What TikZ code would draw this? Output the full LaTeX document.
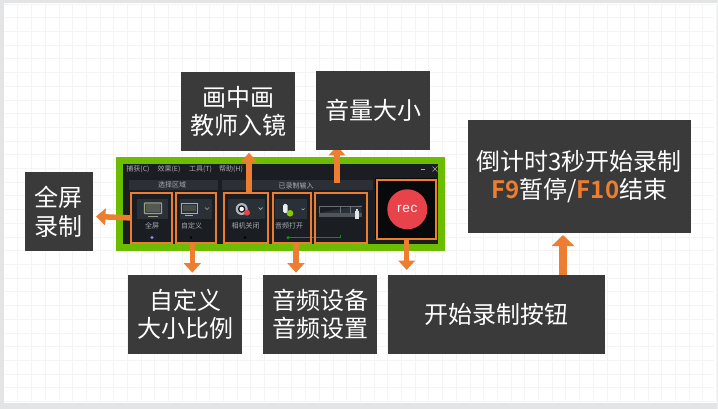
\documentclass[tikz,border=0pt]{standalone}
\usepackage{fontspec}
\setmainfont{Noto Sans CJK SC}
\newfontfamily\cjkbold{Noto Sans CJK SC Bold}
\setsansfont{Liberation Sans}
\usetikzlibrary{arrows.meta,calc}
\definecolor{boxdark}{HTML}{3A3A3A}
\definecolor{accent}{HTML}{ED7D31}
\definecolor{framegreen}{HTML}{6CBD00}
\definecolor{windark}{HTML}{1A1E23}
\definecolor{panel}{HTML}{2B3037}
\definecolor{tile}{HTML}{2A3037}
\definecolor{wintext}{HTML}{A8ACB0}
\definecolor{iconc}{HTML}{9DA287}
\definecolor{recred}{HTML}{E8434A}
\definecolor{gridc}{HTML}{F4F4F4}
\definecolor{edgec}{HTML}{E3E4E5}
\tikzset{
  x=1pt,y=-1pt,
  label box/.style={fill=boxdark,text=white,align=center,inner sep=0pt,font=\fontsize{24}{28.5}\selectfont,anchor=north west},
  callout/.style={draw=accent,line width=1.9pt,inner sep=0pt,anchor=north west},
  pointer/.style={draw=accent,line width=5.5pt,-{Triangle[length=9.5pt,width=16.5pt]}},
  big pointer/.style={draw=accent,line width=8pt,-{Triangle[length=11pt,width=22pt]}},
  menu text/.style={text=wintext,font=\fontsize{7}{8}\selectfont,inner sep=0pt},
  tile label/.style={text=wintext,font=\fontsize{7}{8}\selectfont,inner sep=0pt},
}
\newcommand{\lbox}[6]{\node[label box,minimum width=#4pt,minimum height=#5pt] (#1) at (#2,#3) {#6};}
\newcommand{\hot}[1]{{\color{accent}\cjkbold #1}}
\begin{document}
\begin{tikzpicture}
\useasboundingbox (0,0) rectangle (718,409);
\fill[white] (0,0) rectangle (718,409);
\foreach \i in {1,...,52} \draw[gridc,line width=.6pt] ({4+13.7*\i},4) -- ({4+13.7*\i},402);
\foreach \i in {0,...,29} \draw[gridc,line width=.6pt] (4,{4+13.7*\i}) -- (714,{4+13.7*\i});
\fill[edgec] (0,0) rectangle (718,3.5);
\fill[edgec] (0,0) rectangle (3.5,409);
\fill[edgec] (0,403) rectangle (718,409);
\fill[edgec!60] (717,0) rectangle (718,409);
% window
\node[fill=framegreen,minimum width=329pt,minimum height=93.5pt,inner sep=0pt,anchor=north west] (frame) at (116,157) {};
\node[fill=windark,minimum width=315pt,minimum height=80pt,inner sep=0pt,anchor=north west] (win) at (123,163.5) {};
\foreach \t/\x in {捕获(C)/138,效果(E)/169,工具(T)/200.5,帮助(H)/231}
  \node[menu text] at (\x,169) {\t};
\draw[wintext,line width=.7pt] (420.5,169) -- (425,169);
\draw[wintext,line width=.7pt] (432.5,166.5) -- (437.5,171.5) (432.5,171.5) -- (437.5,166.5);
\fill[panel] (129,180) rectangle (218,190);
\fill[panel] (222,180) rectangle (373,190);
\node[tile label] at (172,184.5) {选择区域};
\node[tile label] at (296,186) {已录制输入};
% tiles
\fill[tile] (136.7,199) rectangle (168,218.5);
\draw[iconc,line width=1.1pt,rounded corners=.5pt] (144.5,203) rectangle (161.5,213.5);
\fill[iconc!45!windark] (146,204.5) rectangle (160,212);
\draw[iconc,line width=1pt] (148,216) -- (158,216);
\node[tile label] at (152,225.5) {全屏};
\fill[blue!45!white] (152,237.5) circle (1.7pt);
\fill[tile] (180,199) rectangle (210.5,218.5);
\draw[wintext,line width=1pt] (181.2,203.2) rectangle (197.2,213);
\fill[iconc!35!windark] (183,205) rectangle (195.5,211.2);
\draw[wintext,line width=1pt] (185,215.5) -- (193,215.5);
\fill[panel] (201,199) rectangle (212,218.5);
\draw[wintext,line width=.7pt] (205,207.5) -- (207,209.5) -- (209,207.5);
\node[tile label] at (191.7,225.5) {自定义};
\fill[tile] (228,199) rectangle (265,218.5);
\fill[wintext!90!white] (241.7,209) circle (6pt);
\fill[windark] (241.7,209) circle (3.8pt);
\fill[white] (241.7,209) circle (2.2pt);
\fill[recred] (247,212.7) circle (3pt);
\draw[wintext,line width=.7pt] (258.7,207.5) -- (260.7,209.5) -- (262.7,207.5);
\node[tile label] at (245.7,225.5) {相机关闭};
\fill[tile] (275,199) rectangle (307,218.5);
\fill[white!85!gray,rounded corners=1.5pt] (283,204) rectangle (287.5,213);
\fill[framegreen!80!yellow] (290,213.3) circle (3.3pt);
\draw[wintext,line width=.7pt] (301.5,208.5) -- (303,210) -- (304.5,208.5);
\node[tile label] at (289,225.5) {音频打开};
% meter
\fill[tile] (319,213) -- (361.7,205) -- (361.7,213) -- cycle;
\draw[tile!50!wintext,line width=.5pt] (319,206.7) -- (361.7,206.7) (319,206) -- (319,212.7) (340,206) -- (340,212.7) (350,206) -- (350,212.7);
\fill[tile!70!wintext] (319,213) rectangle (361.7,217);
\fill[white!80!gray] (354.7,211) rectangle (358.7,218.5);
\fill[white!80!gray] (355.7,209) rectangle (357.7,211);
\draw[green!60!black,line width=.7pt] (288,237.7) -- (340,237.7) -- (340,234.5);
\fill[green!60!black] (288,237.7) circle (1.7pt);
\fill[black] (191,237.5) circle (1.3pt) (245,237.5) circle (1.3pt);
\fill[black!70!windark] (375,178) rectangle (436,238.5);
\node[circle,fill=recred,minimum size=40pt,inner sep=0pt,text=white,font=\sffamily\fontsize{13.5}{15}\selectfont] (recbtn) at (407.3,209.3) {r\kern.7pt e\kern.7pt c};
% callouts
\node[callout,minimum width=41pt,minimum height=50.5pt] (cfull) at (130.3,191.7) {};
\node[callout,minimum width=40pt,minimum height=50.5pt] (ccustom) at (175,191.7) {};
\node[callout,minimum width=44pt,minimum height=50.5pt] (ccam) at (223.2,191.7) {};
\node[callout,minimum width=38.5pt,minimum height=50.5pt] (caudio) at (271.7,191.7) {};
\node[callout,minimum width=52.5pt,minimum height=50.5pt] (cvol) at (313.7,191.7) {};
\node[callout,minimum width=59pt,minimum height=58.5pt] (crec) at (375.8,179.2) {};
% connector that runs under its label box
\coordinate (a3tail) at (337,183);
\coordinate (a3) at (337,146);
\draw[pointer] (a3tail) -- (a3);
% labels
\lbox{pip}{181}{71.5}{114}{79.5}{画中画\\教师入镜}
\lbox{vol}{316}{71}{114}{79}{音量大小}
\lbox{full}{24.5}{172}{68.5}{79}{全屏\\录制}
\lbox{count}{467.5}{119.5}{223}{113.5}{倒计时3秒开始录制\\\hot{F9}暂停/\hot{F10}结束}
\lbox{size}{128}{274.5}{114}{79.5}{自定义\\大小比例}
\lbox{dev}{263}{274.5}{114}{79.5}{音频设备\\音频设置}
\lbox{start}{388}{274.5}{216.5}{79.5}{开始录制按钮}
% connectors
\coordinate (a1) at (96,216.5);
\coordinate (a2) at (249,152.8);
\coordinate (a4) at (192.3,272.7);
\coordinate (a5) at (296,272.7);
\coordinate (a6) at (406.7,270);
\coordinate (a7) at (563,235);
\draw[pointer] (cfull.west) -- (a1);
\draw[pointer] (ccam.north -| a2) -- (a2);
\draw[pointer] (ccustom.south -| a4) -- (a4);
\draw[pointer] (caudio.south -| a5) -- (a5);
\draw[pointer] (crec.south -| a6) -- (a6);
\draw[big pointer] (start.north -| a7) -- (a7);
\end{tikzpicture}
\end{document}
